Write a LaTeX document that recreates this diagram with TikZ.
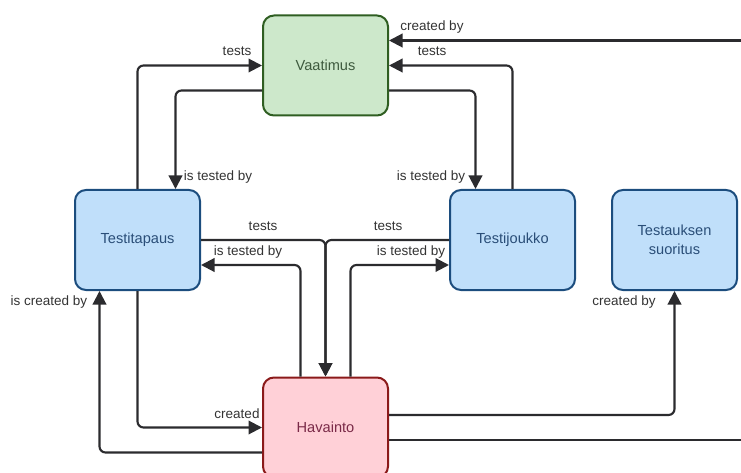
\documentclass[tikz,border=0pt]{standalone}
\usepackage{fontspec}
\setmainfont{Liberation Sans}
\usetikzlibrary{arrows.meta}
\definecolor{bluefill}{HTML}{C0DFFA}
\definecolor{bluedraw}{HTML}{1C4D7E}
\definecolor{bluetext}{HTML}{2A4E78}
\definecolor{greenfill}{HTML}{CDE8CB}
\definecolor{greendraw}{HTML}{2F5E22}
\definecolor{greentext}{HTML}{3E5A3E}
\definecolor{redfill}{HTML}{FFD0D7}
\definecolor{reddraw}{HTML}{8B1A1A}
\definecolor{redtext}{HTML}{7A2A48}
\definecolor{linecol}{HTML}{2B2B2E}
\definecolor{labcol}{HTML}{333333}
\tikzset{
  entity/.style={rounded corners=11pt, line width=2pt, minimum width=125pt,
    minimum height=100pt, inner sep=0pt, align=center,
    font=\fontsize{14.6}{19.5}\selectfont},
  bluebox/.style={entity, fill=bluefill, draw=bluedraw, text=bluetext},
  greenbox/.style={entity, fill=greenfill, draw=greendraw, text=greentext},
  redbox/.style={entity, fill=redfill, draw=reddraw, text=redtext},
  link/.style={draw=linecol, line width=2.1pt, rounded corners=6pt},
  arr/.style={link, -{Triangle[length=13.5pt,width=13.5pt]}},
  lab/.style={text=labcol, inner sep=0pt, font=\fontsize{13.5}{15}\selectfont}
}
\begin{document}
\begin{tikzpicture}[x=1pt,y=-1pt]
\useasboundingbox (0,0) rectangle (741,473);

% entities
\node[greenbox] (va) at (325.5,65.5) {Vaatimus};
\node[bluebox]  (tt) at (137.5,240) {Testitapaus};
\node[bluebox]  (jk) at (512.5,240) {Testijoukko};
\node[bluebox]  (ts) at (674.5,240) {Testauksen\\suoritus};
\node[redbox]   (hv) at (325.5,427.5) {Havainto};

% loose ends leaving the right edge
\coordinate (inR)  at (745,40.5);
\coordinate (outR) at (745,440);

% connectors
\draw[arr] (tt.north) |- (va.west);
\draw[arr] ([yshift=-25pt]va.west) -| ([xshift=38pt]tt.north);
\draw[arr] (jk.north) |- (va.east);
\draw[arr] ([yshift=-25pt]va.east) -| ([xshift=-37pt]jk.north);
\draw[arr] (inR) -- (inR -| va.east);
\draw[arr] (tt.east) -| (hv.north);
\draw[arr] (jk.west) -| (hv.north);
\draw[arr] ([xshift=-25pt]hv.north) |- ([yshift=-25pt]tt.east);
\draw[arr] ([xshift=25pt]hv.north) |- ([yshift=-25pt]jk.west);
\draw[arr] (tt.south) |- (hv.west);
\draw[arr] ([yshift=-25pt]hv.west) -| ([xshift=-38pt]tt.south);
\draw[arr] ([yshift=12.5pt]hv.east) -| (ts.south);
\draw[link] ([yshift=-12.5pt]hv.east) -- (outR);

% connector labels
\node[lab] (l1)  at (237,51)  {tests};
\node[lab] (l2)  at (218,177) {is tested by};
\node[lab] (l3)  at (432,51)  {tests};
\node[lab] (l4)  at (431,177) {is tested by};
\node[lab] (l5)  at (432,27)  {created by};
\node[lab] (l6)  at (263,226) {tests};
\node[lab] (l7)  at (388,226) {tests};
\node[lab] (l8)  at (248,252) {is tested by};
\node[lab] (l9)  at (411,252) {is tested by};
\node[lab] (l10) at (237,414) {created};
\node[lab] (l11) at (49,302)  {is created by};
\node[lab] (l12) at (624,302) {created by};
\end{tikzpicture}
\end{document}
